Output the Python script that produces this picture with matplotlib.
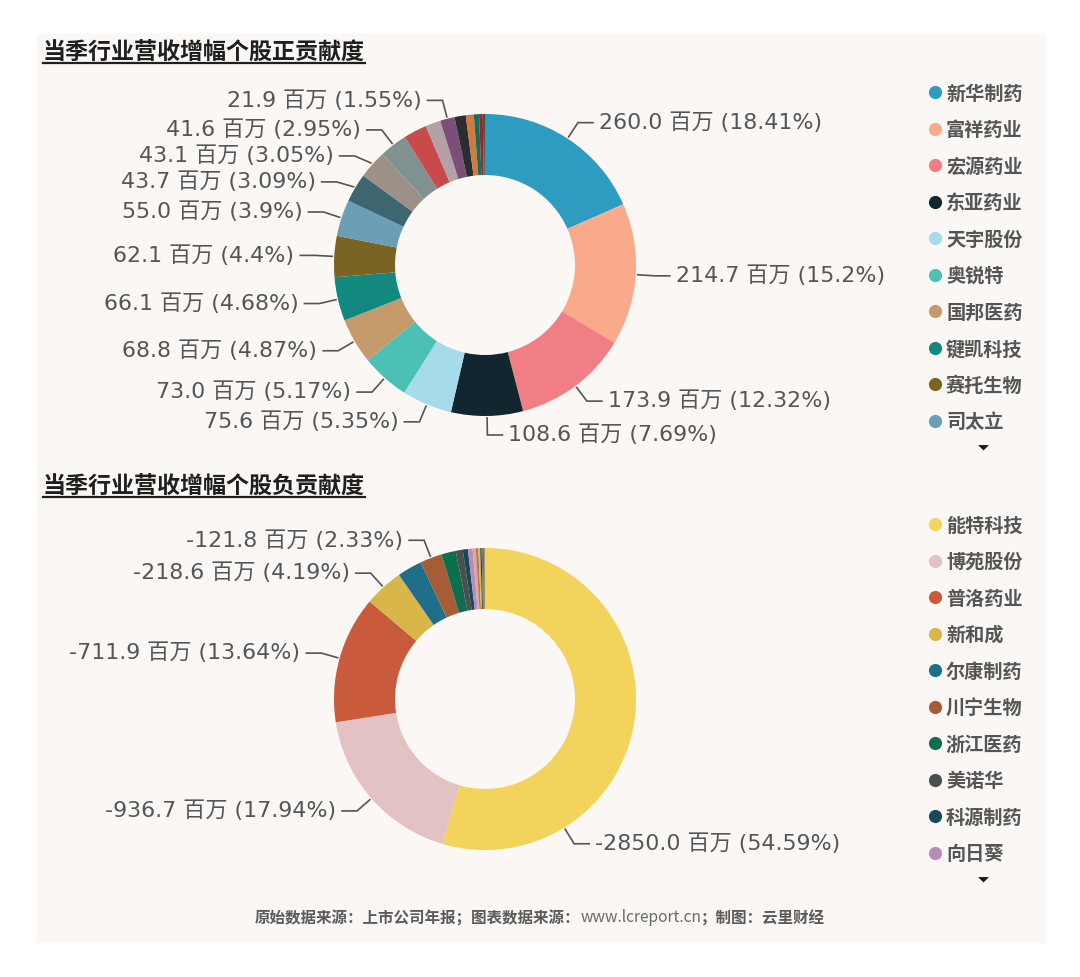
import matplotlib
matplotlib.use("Agg")
import matplotlib.pyplot as plt
import numpy as np

# Figure size in pixels (saved at dpi=100)
W, H = 1080, 978

# Positive contributions (百万), clockwise from 12 o'clock; only the first ten names are in the legend
POS_TITLE = "当季行业营收增幅个股正贡献度"
POS_NAMES = ["新华制药", "富祥药业", "宏源药业", "东亚药业", "天宇股份",
             "奥锐特", "国邦医药", "键凯科技", "赛托生物", "司太立"]
POS_VALUES = [260.0, 214.7, 173.9, 108.6, 75.6, 73.0, 68.8, 66.1, 62.1, 55.0,
              43.7, 43.1, 41.6, 35.3, 22.9, 21.9, 17.0, 12.0, 7.8, 5.6, 2.0, 1.35]
POS_COLORS = ["#2e9bc0", "#f8aa8a", "#f07e84", "#12262f", "#a6dbea", "#4bc0b4",
              "#c59a6b", "#12887e", "#7a6424", "#6a9fb6", "#3d6670", "#9d9087",
              "#7f9191", "#c94a4a", "#b3a1a7", "#7b4f78", "#2b2e30", "#cf7a3e",
              "#1a6b5a", "#8b2e2e", "#6a4a30", "#333333"]
# slices whose labels are shown (the rest are hidden to avoid overlap)
POS_LABELED = [0, 1, 2, 3, 4, 5, 6, 7, 8, 9, 10, 11, 12, 15]

# Negative contributions (百万)
NEG_TITLE = "当季行业营收增幅个股负贡献度"
NEG_NAMES = ["能特科技", "博苑股份", "普洛药业", "新和成", "尔康制药",
             "川宁生物", "浙江医药", "美诺华", "科源制药", "向日葵"]
NEG_VALUES = [-2850.0, -936.7, -711.9, -218.6, -138.3, -121.8, -80.9, -39.2,
              -28.7, -26.1, -18.0, -13.5, -10.5, -8.0, -6.5, -5.0, -4.0, -3.0]
NEG_COLORS = ["#f2d35b", "#e2c2c2", "#c95a3b", "#d8b64a", "#1f6e8a", "#a65c34",
              "#0f6e4d", "#4a4f4f", "#164a5a", "#b98bb8", "#d9a3b5", "#b07a3a",
              "#e0b94a", "#3b3b3b", "#6a7b8b", "#8a5a3a", "#222222", "#c9a040"]
NEG_LABELED = [0, 1, 2, 3, 5]

FOOTER_PARTS = ["原始数据来源：上市公司年报；图表数据来源：", "www.lcreport.cn", "；制图：云里财经"]

PANEL_COLOR = "#faf7f4"
TEXT_GRAY = "#555555"
CJK = ["Noto Sans CJK SC", "DejaVu Sans"]
LATIN = ["DejaVu Sans", "Noto Sans CJK SC"]

R_OUT = 151.0   # outer radius in px
R_IN = 90.0     # inner radius in px

plt.rcParams["font.family"] = LATIN


def pct_text(p):
    s = f"{p:.2f}".rstrip("0").rstrip(".")
    return s + "%"


def draw_donut(fig, cx, cy, values, colors, labeled, anchor_frac):
    half_w, half_h = 440.0, 205.0
    ax = fig.add_axes([(cx - half_w) / W, 1 - (cy + half_h) / H,
                       2 * half_w / W, 2 * half_h / H])
    sizes = np.abs(np.array(values, dtype=float))
    total = sizes.sum()
    ax.pie(sizes, colors=colors, startangle=90, counterclock=False, radius=1,
           wedgeprops=dict(width=1 - R_IN / R_OUT, linewidth=0))
    ax.set_aspect("auto")
    ax.set_xlim(-half_w / R_OUT, half_w / R_OUT)
    ax.set_ylim(-half_h / R_OUT, half_h / R_OUT)
    ax.axis("off")
    ax.patch.set_alpha(0)

    ends = np.cumsum(sizes) / total
    starts = ends - sizes / total

    px = 1.0 / R_OUT
    r0 = 1 + 2 * px          # leader line start
    re = 1 + 19 * px         # elbow radius
    len2 = 15 * px           # horizontal leg
    gap = 6 * px
    min_sep = 26 * px

    items = []
    for i in labeled:
        frac = anchor_frac.get(i, 0.5)
        theta = np.radians(360 * (starts[i] + frac * (ends[i] - starts[i])))
        side = 1 if np.sin(theta) >= 0 else -1
        items.append(dict(i=i, theta=theta, side=side, y=re * np.cos(theta)))

    # push labels apart on each side, top to bottom
    for side in (1, -1):
        group = sorted([it for it in items if it["side"] == side], key=lambda d: -d["y"])
        for k in range(1, len(group)):
            if group[k - 1]["y"] - group[k]["y"] < min_sep:
                group[k]["y"] = group[k - 1]["y"] - min_sep

    for it in items:
        i, th, side, ye = it["i"], it["theta"], it["side"], it["y"]
        xe = side * np.sqrt(max(re ** 2 - ye ** 2, 0.0))
        x0, y0 = r0 * np.sin(th), r0 * np.cos(th)
        ax.plot([x0, xe, xe + side * len2], [y0, ye, ye], color=TEXT_GRAY,
                lw=1.2, solid_joinstyle="miter", clip_on=False)
        label = f"{values[i]:.1f} 百万 ({pct_text(sizes[i] / total * 100)})"
        ax.text(xe + side * (len2 + gap), ye + 1 * px, label,
                ha="left" if side > 0 else "right", va="center",
                fontsize=15.9, color=TEXT_GRAY, family=LATIN, clip_on=False)
    return ax


def draw_legend(ov, names, colors, y0):
    step = 36.5
    for k, name in enumerate(names):
        y = y0 + k * step
        ov.scatter([935], [y], s=90, color=colors[k], linewidths=0, zorder=3)
        ov.text(946, y + 1, name, fontsize=13.8, fontweight="bold", color=TEXT_GRAY,
                family=CJK, ha="left", va="center")
    tri = [(-1, 0.45), (1, 0.45), (0, -0.55)]
    ov.scatter([983], [y0 + len(names) * step - 10], marker=tri, s=60,
               color="#1a1a1a", linewidths=0)


def draw_title(fig, ov, text, y):
    t = ov.text(43, y, text, fontsize=16.6, fontweight="bold", color="#1f1f1f",
                family=CJK, ha="left", va="center")
    renderer = fig.canvas.get_renderer()
    bb = t.get_window_extent(renderer)
    x1 = 43 + bb.width
    ov.plot([43, x1], [y + 12, y + 12], color="#1f1f1f", lw=1.6)


fig = plt.figure(figsize=(W / 100, H / 100), dpi=100, facecolor="white")

# overlay axes in pixel coordinates (y grows downward)
ov = fig.add_axes([0, 0, 1, 1])
ov.set_xlim(0, W)
ov.set_ylim(H, 0)
ov.axis("off")
ov.add_patch(plt.Rectangle((37, 35), 1008, 908, color=PANEL_COLOR, zorder=0))

draw_donut(fig, 485, 266, POS_VALUES, POS_COLORS, POS_LABELED, {})
draw_donut(fig, 485, 700, NEG_VALUES, NEG_COLORS, NEG_LABELED, {0: 0.755})

draw_title(fig, ov, POS_TITLE, 52)
draw_title(fig, ov, NEG_TITLE, 486)

draw_legend(ov, POS_NAMES, POS_COLORS, 93)
draw_legend(ov, NEG_NAMES, NEG_COLORS, 525)

# footer: bold text with a regular-weight URL in the middle
renderer = fig.canvas.get_renderer()
weights = ["bold", "normal", "bold"]
colors = ["#5a5a5a", "#6a6a6a", "#5a5a5a"]
texts = []
for part, wt, c in zip(FOOTER_PARTS, weights, colors):
    texts.append(ov.text(0, 918, part, fontsize=11.2, fontweight=wt, color=c,
                         family=CJK, ha="left", va="center"))
widths = [t.get_window_extent(renderer).width for t in texts]
x = W / 2 - sum(widths) / 2
for t, w in zip(texts, widths):
    t.set_x(x)
    x += w

fig.savefig("out.png", dpi=100, facecolor="white")
